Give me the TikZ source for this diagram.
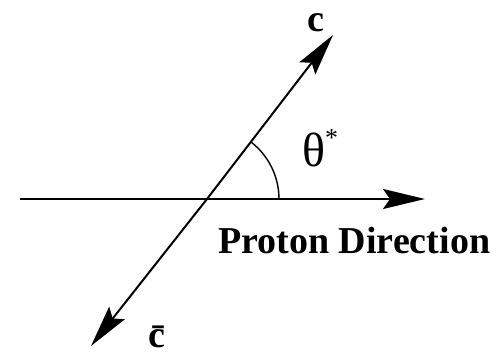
\documentclass[tikz,border=0pt]{standalone}
\usepackage{fontspec}
\setmainfont{Liberation Serif}
\usetikzlibrary{arrows.meta}

\tikzset{
  axis/.style={line width=2pt, -{Stealth[length=42pt,width=20pt,inset=7pt]}},
  lbl/.style={inner sep=0pt, anchor=base, font=\bfseries\fontsize{38}{40}\selectfont}
}

\begin{document}
\begin{tikzpicture}[x=1pt,y=1pt]
            \useasboundingbox (0,0) rectangle (504,358);
            % Directions
            \coordinate (O) at (207,159);
            \coordinate (left) at (20,159);
            \coordinate (right) at (425,159);
            \coordinate (cTip) at (333,323);
            \coordinate (cbarTip) at (91,12);
            
            \draw[axis] (left) -- (right);
            \draw[axis] (O) -- (cTip);
            \draw[axis] (O) -- (cbarTip);
            
            % Angle
            \draw[line width=1.4pt] ([shift={(0:72)}]O) arc (0:52.5:72);
            
            % Labels
            \node[lbl] (c) at (316,326) {c};
            \node[lbl] (cbar) at (157,10) {\=c};
            \node[inner sep=0pt, anchor=base west, font=\fontsize{48}{50}\selectfont] (theta) at (302,191) {θ\raisebox{20pt}{\fontsize{26}{28}\selectfont *}};
            \node[lbl, anchor=base west] (proton) at (218,104) {Proton Direction};
        \end{tikzpicture}
\end{document}
